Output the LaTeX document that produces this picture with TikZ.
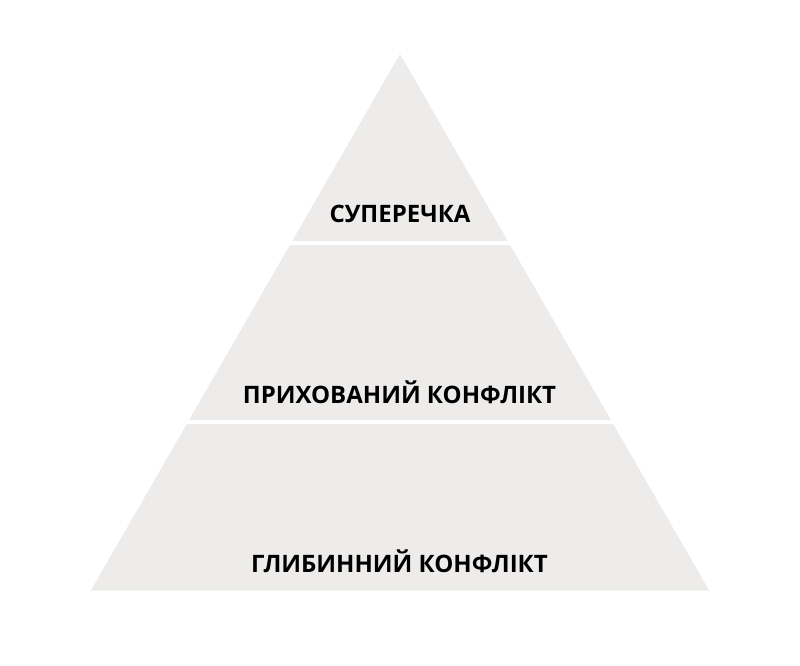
\documentclass[tikz,border=0pt]{standalone}
\usepackage{fontspec}
\setmainfont{Open Sans}
\definecolor{pyr}{HTML}{EDECEB}
\begin{document}
\begin{tikzpicture}[x=1pt,y=-1pt,
  band/.style={fill=pyr,draw=none},
  lbl/.style={anchor=base,font=\fontsize{24}{28}\selectfont\bfseries,text=black,inner sep=0pt}]
\useasboundingbox (0,0) rectangle (800,666);
\fill[band] (400,54) -- (507.8,241) -- (292.2,241) -- cycle;
\fill[band] (289.9,245) -- (510.1,245) -- (610.9,420) -- (189.1,420) -- cycle;
\fill[band] (186.8,424) -- (613.2,424) -- (709.3,590.7) -- (90.7,590.7) -- cycle;
\node[lbl] (t1) at (400,222) {СУПЕРЕЧКА};
\node[lbl] (t2) at (399.5,403) {ПРИХОВАНИЙ КОНФЛІКТ};
\node[lbl] (t3) at (399.5,572) {ГЛИБИННИЙ КОНФЛІКТ};
\end{tikzpicture}
\end{document}
